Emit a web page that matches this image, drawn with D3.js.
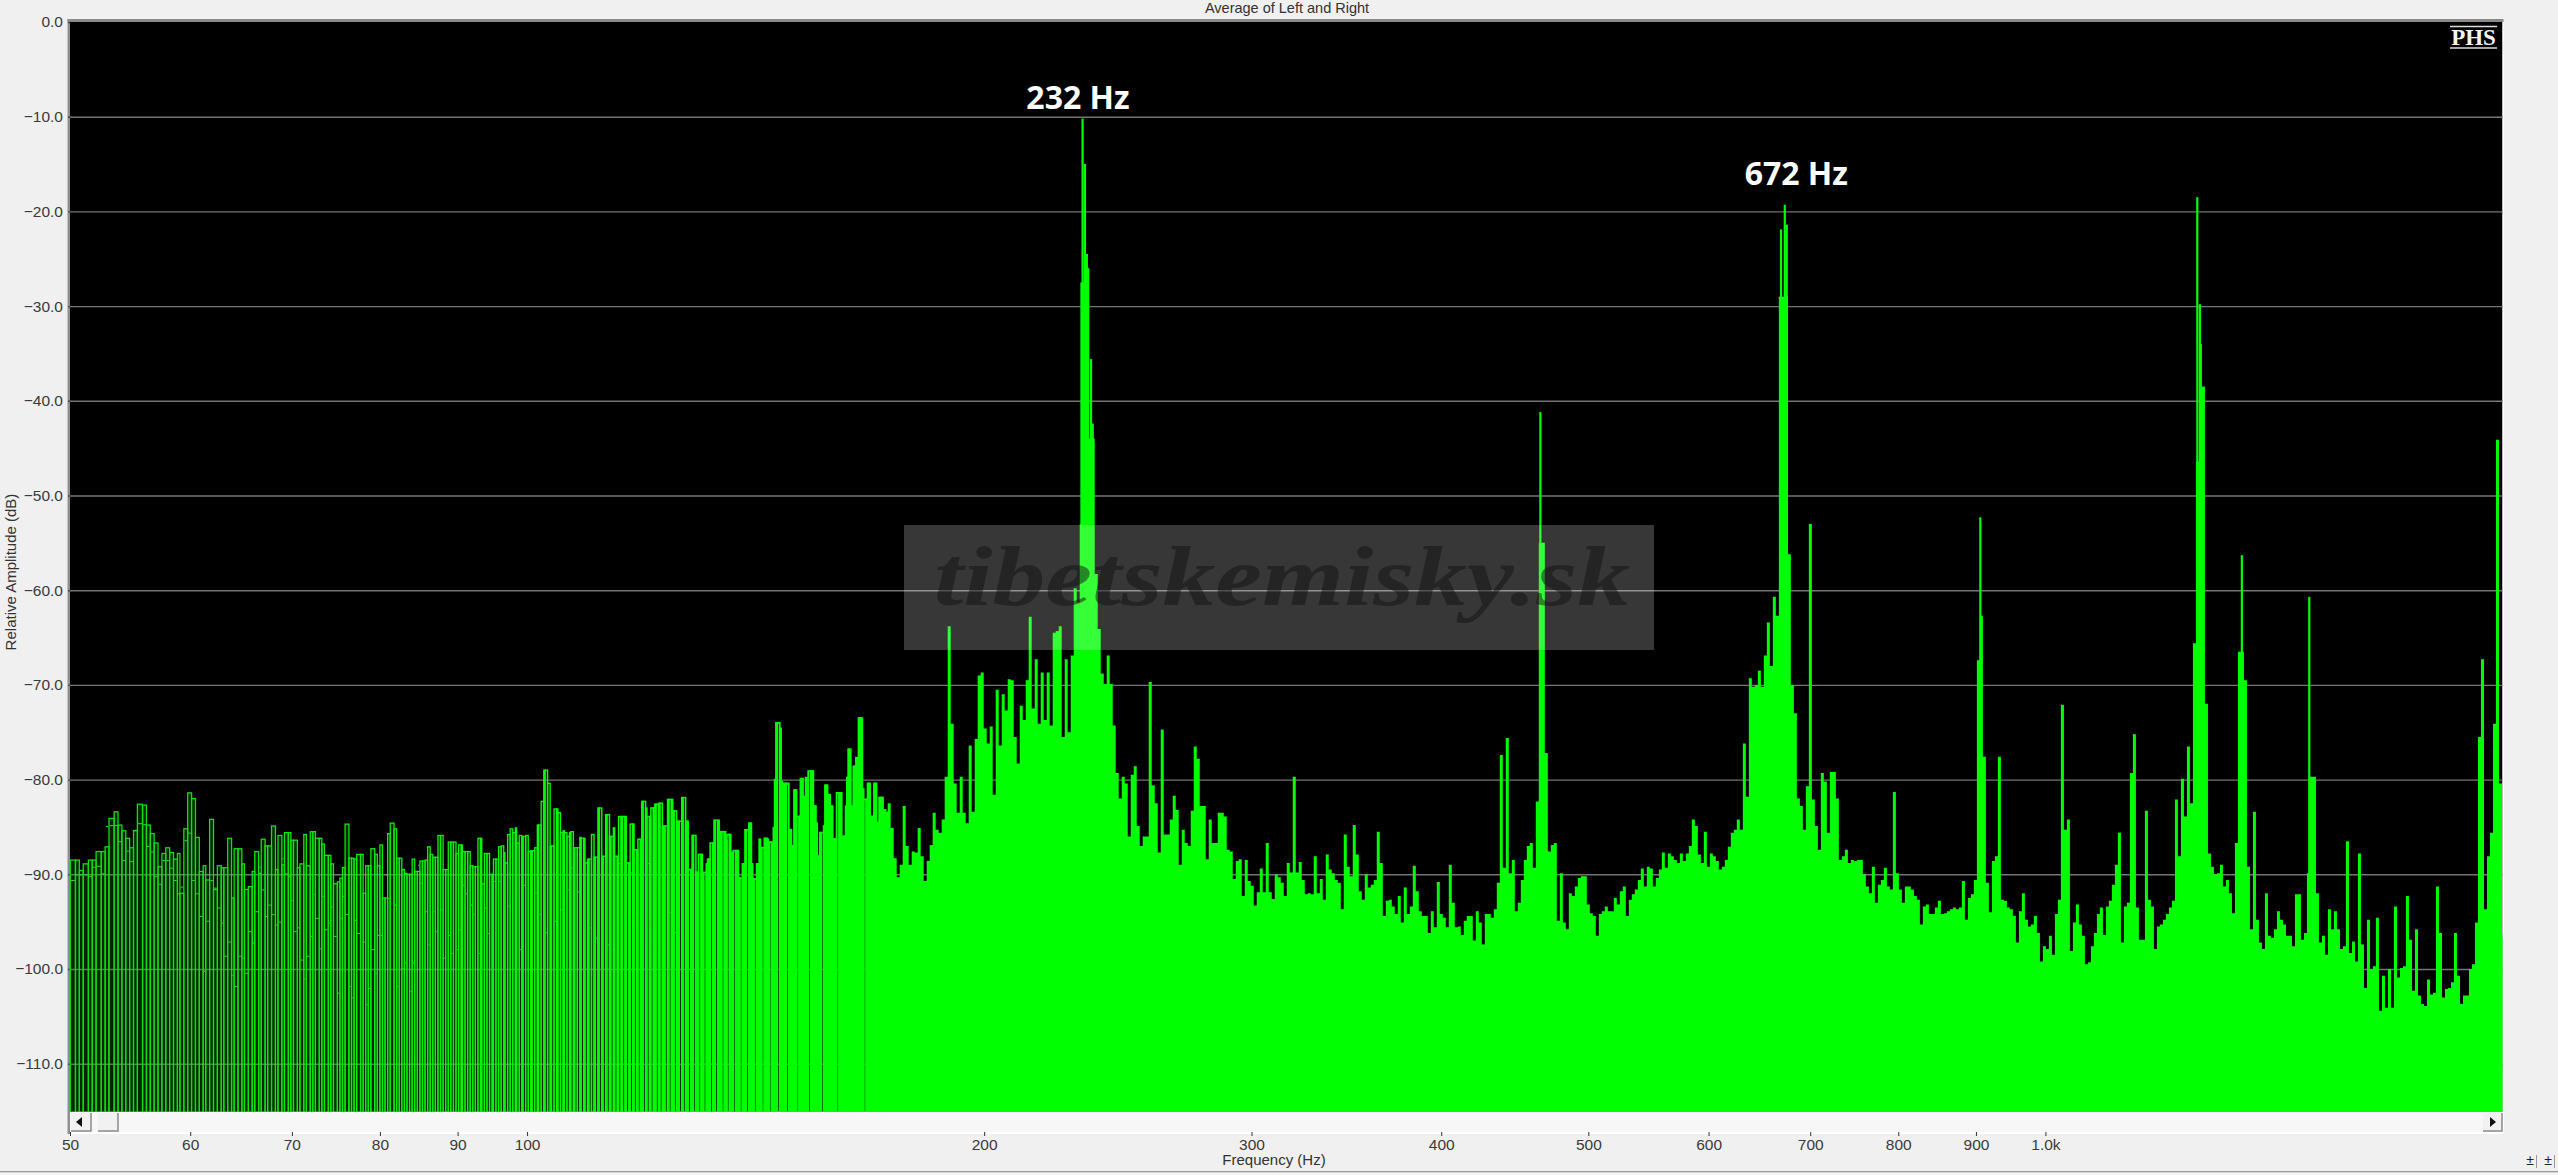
<!DOCTYPE html>
<html><head><meta charset="utf-8"><style>html,body{margin:0;padding:0;background:#f0f0f0;overflow:hidden}svg{display:block}</style>
<script src="https://cdn.jsdelivr.net/npm/d3@7"></script></head><body><svg id="c" width="2558" height="1175"></svg>
<script>
const chartTitle="Average of Left and Right", xTitle="Frequency (Hz)", yTitle="Relative Amplitude (dB)";
const yTicks=[0,-10,-20,-30,-40,-50,-60,-70,-80,-90,-100,-110];
const xTickHz=[50,60,70,80,90,100,200,300,400,500,600,700,800,900,1000];
const xTickLabels=["50","60","70","80","90","100","200","300","400","500","600","700","800","900","1.0k"];
const annotations=[{text:"232 Hz",hz:232,db:-9.2,dx:-4},{text:"672 Hz",hz:672,db:-17.2,dx:13}];
const binHz=0.336, lowStartHz=50, highStartHz=172, highBinsPerOctave=152.33;
// FFT bins 50-172 Hz, top of each bar (dB)
const lowDb=[-88.5,-88.5,-89.6,-88.9,-88.5,-88.5,-87.6,-87.6,-87.1,-84.1,-83.4,-84.8,-85.4,-86.2,-87.2,-85.4,-82.6,-82.7,-84.8,-85.7,-86.7,-89.2,-87.8,-87.2,-87.7,-88.4,-87.8,-92,-85.2,-81.4,
-82,-86.1,-89.7,-89.1,-90.6,-84.2,-91.6,-89.1,-89.3,-89.3,-86.2,-92.5,-87.3,-87.3,-88.9,-91.6,-91.3,-89.7,-87.6,-89.9,-86.3,-87,-87,-84.9,-89.5,-85.9,-89,-85.6,-85.6,-86.4,
-86.4,-89.3,-88.9,-85.8,-89.1,-85.5,-85.5,-86.2,-86.2,-86.8,-88,-88,-88.9,-91,-90.8,-90.4,-89.3,-84.7,-88.3,-88.3,-88.4,-87.9,-87.9,-92,-89.1,-89.1,-87.3,-87.9,-89.1,
-86.9,-92.5,-92.5,-85.7,-84.6,-85.2,-88.3,-88.3,-89.5,-89.9,-90,-90,-88.4,-89.7,-89.7,-88.6,-88.6,-88.5,-87.1,-87.9,-88.2,-88.2,-85.9,-85.9,-89.5,-89.5,-86.6,-86.6,-86.6,-87.8,
-86.9,-86.9,-87.6,-87.6,-87.6,-89.1,-89.2,-89.2,-86.2,-86.2,-91,-87.8,-87.8,-90,-90,-88.4,-88.4,-87.1,-87,-87.7,-88.8,-85.8,-85.2,-85.6,-85.1,-86.7,-85.9,-86,-86,
-85.9,-87.6,-87.5,-87.5,-87.2,-84.8,-84.8,-82.3,-79,-79,-80.4,
-87,-87,-83.1,-83.1,-83.5,-85.6,-85.4,-85.6,-86,-85.6,
-85.5,-87.2,-87.2,-87.2,-86.1,-86.2,-86.2,-88.8,-88.4,-88.4,
-85.8,-88.2,-88.2,-83,-83,-88.1,-88.1,-83.7,-83.7,-86,
-86,-85.1,-88.1,-88.1,-83.9,-83.9,-83.9,-83.9,-88.8,-88.8,
-84.7,-84.7,-87.4,-87.4,-86.3,-86.3,-82.3,-82.3,-83,-83.9,
-83.9,-83,-83,-82.6,-82.6,-82.5,-82.5,-84.9,-84.9,-84.9,
-82.1,-82.1,-82.1,-83.3,-83.3,-84.4,-84.4,-84.4,-81.9,-81.9,
-84.4,-84.4,-89.5,-89.5,-85.9,-85.9,-89.8,-89.8,-87.9,-87.9,
-90.7,-89.8,-88.9,-88.4,-88.4,-86.7,-86.7,-84.3,-84.3,-84.3,
-86.7,-85.5,-85.5,-85.5,-86.5,-85.8,-85.8,-87.7,-87.7,-87.5,
-87.5,-87.5,-90.4,-90.4,-88.9,-88.9,-85.3,-85.3,-84.6,-84.6,
-88.9,-90.5,-90.5,-88.9,-88.9,-86.3,-87.2,-87.2,-86.2,-86.2,
-86.3,-86.6,-86.6,-86.6,-85.1,-80,-74,-74,-74.6,-80.2,
-83.5,-80.4,-80.4,-80.4,-85.3,-85.3,-87,-87,-81.1,-81.1,
-83.9,-83.9,-79.9,-79.9,-81.8,-81.8,-79.8,-81.2,-79.1,-79.1,
-79.1,-82.8,-82.8,-84.6,-88.1,-88.1,-85.6,-85.6,-84.9,-80.6,
-80.6,-81.6,-81.6,-82.8,-82.8,-86.3,-86.3,-86.3,-81.4,-81.4,
-81.4,-86,-86,-86,-82.8,-79.8,-76.8,-76.8,-82.8,-82.8,
-78.6,-78.6,-77.7,-77.7,-73.5,-73.5,-73.5,-81,-82.1,-82.1,
-80.4,-80.4,-83.9,-83.9,-83.9,-80.4,-80.4,-84.6,-84.6,-81.9,-81.9,-81.9,-83.2,-83.2];
// second, fainter trace inside the bars (dB)
const lowInnerDb=[-90.6,-90,-90,-90,-90.2,-89.2,-89.1,-89.9,-84.9,-84.8,-84.8,-86.5,-88.5,-87.5,-88.6,-85.3,-84.6,-84.7,-87,-87.6,-90.2,-91,-88.5,-88.5,-89.3,-90.6,-92,-91.3,-86.4,-85.6,
-90.6,-92,-94.4,-100.2,-94.9,-90.6,-91.4,-93.5,-95.1,-98.6,-97.1,-100.6,-101.8,-98.6,-98.8,-100.4,-96,-97.2,-93.9,-89.2,-91.6,-94.4,-93.2,-94.2,-95.3,-95,-88.3,-89.9,-90.2,-92.7,
-96,-95.6,-99,-101,-98.6,-96.5,-92.1,-94.6,-97.8,-92.3,-95.8,-95.1,-93.4,-96.5,-102.5,-94.6,-92.3,-94.2,-101.8,-103,-94.8,-96.2,-100,-97.1,-103.7,-102,-97.9,-100.4,-96.4,
-96.4,null,-90,-92.5,null,-93.2,-101.8,null,-99.9,-99.3,null,-102.3,-99.3,null,-89,-90.9,null,-93.9,-97.4,null,-93.9,-96,null,-93.7,-98.8,null,-96.4,-98.3,null,-97.9,-95.8,null,-91.1,-92,null,-93.2,-94.2,null,-98.3,-92.8,null,-93.5,-96.2,null,-99.9,
-90.7,null,-90.7,null,-92.3,null,-93.3,null,null,-92.1,null,-97.9,null,-91.1,null,null,-93,null,-91.9,null,-94.2,null,null,-96.1,null,-99.1,null,-94.9,null,null,-93.7,null,null,-91.6,null,-89.3,null,null,-91.8,null,null,-94.4,null,null,-95.6,null,null,-96.7,null,null,-88.4,null,null,-97.4,null,null,-95.4,null,null,-88.8,null,null,-94,null,null,-89.8,null,null,-94.9,null,null,-95.8,null,null,-88.8,null,null,-95.4,null,null,-91.9,null,null,-97.4,null,null,-94,null,null,-96.1];
// log-spaced columns from 172 Hz to 2 kHz, top of each column (dB)
const highDb=[-83.4,-82.5,-85.1,-88.3,-90.3,-89,-82.8,-87,-89,-87.6,-87.7,-85.1,-88.1,-90.7,-88.6,-86.9,-83.5,-85.3,-85.6,-84.2,-79.7,-63.8,-74.1,-80.4,-83.5,-79.7,-83.5,-84.6,-76.4,-83.4,-75.7,-69,-68.7,-74.6,-76.2,-74.4,-81.6,-70.5,-76.4,-71,-72.7,-69.4,-69.5,-75.5,-78.3,-72.2,-73.7,-69.5,-62.8,-72.5,-67.3,-74.1,-68.7,-73.7,-68.7,-74.3,-64.5,-64.3,-63.8,-75.5,-67.3,-75,-66.9,-59.8,-61.3,-53,-27.5,-27.5,-44,-44,-58.3,-64.1,-68.8,-69.9,-66.9,-69.9,-74.3,-79.3,-82,-79.7,-80.4,-86,-79.5,-78.6,-84.9,-87,-86,-86,-69.7,-80.6,-82.5,-87.7,-74.7,-85.8,-85.8,-84.2,-81.7,-83.2,-89,-85.3,-86.7,-87,-83.3,-76.5,-77.8,-82.8,-82.8,-88.4,-84.2,-86.7,-86.7,-83.5,-83.5,-83.9,-87.4,-87.6,-90.5,-88.6,-88.4,-92.3,-88.5,-90.7,-91.2,-93.3,-91.9,-89.4,-91.9,-86.7,-91.9,-92.6,-90,-90.3,-90.9,-92.3,-88.8,-89.8,-79.7,-89.8,
-88.7,-90.6,-92.1,-92,-92.1,-88.1,-92,-90.5,-92.7,-87.9,-89.5,-89.9,-90.6,-90.9,-93.7,-85.8,-89.2,-90.2,-84.8,-87.9,-91.8,-92.7,-90,-91.4,-91.1,-90.6,-85.5,-88.8,-94.4,-92.8,-92.7,-93.4,-94.2,-92.3,-95.1,-91.4,-94.2,-93.4,-89.1,-91.8,-93.9,-94.4,-94.4,-96.2,-93.9,-95.6,-90.8,-94.2,-94.6,-95.6,-89,-93,-95.6,-95.5,-96.4,-94.9,-94.4,-94.4,-97,-93.9,-95.1,-97.4,-94.2,-94.2,-94.6,-93.7,-90.9,-77.4,-89.3,-75.6,-89.9,-88.5,-93.9,-93,-90.6,-88.5,-87,-86.7,-89.3,-82.3,-55,-55,-77.2,-87.6,-86.9,-86.7,-94.9,-89.9,-95.1,-95.8,-92,-92.3,-91.3,-90.4,-90.2,-90.2,-93.2,-94.1,-94.4,-96.5,-94.2,-93.9,-93.4,-93.9,-93.9,-92.5,-93.2,-91.8,-91.3,-94.4,-92.7,-92.1,-91.6,-90.6,-89.4,-91.3,-89.2,-89.4,-91.3,-90.4,-89.5,-87.7,-89.3,-87.8,-88.1,-88.5,-88.8,-87.8,-88.6,-87.8,-87,-84.2,-84.9,-87.9,-88.8,-85.5,-89.2,
-87.8,-88.1,-88.6,-89.5,-89.2,-88.5,-87.1,-85.6,-85.3,-84.2,-85.3,-76.2,-81.8,-69.3,-70.2,-70,-68.5,-70.2,-66.9,-63.4,-68,-60.7,-62.7,-29,-29,-29,-56.2,-70,-73,-82,-82.8,-85.3,-80.7,-53,-82.1,-84.9,-87.4,-79.3,-80.2,-85.6,-79.2,-79.2,-82,-88.5,-88.1,-87.4,-88.8,-88.5,-88.6,-88.5,-88.5,-90,-91.3,-92,-89.2,-93,-91.1,-90.6,-89.3,-91.3,-91.6,-81.3,-89.9,-91.6,-93,-91.3,-91.3,-91.6,-92.3,-92.7,-95.3,-93.4,-93.2,-94.2,-94.2,-93.5,-92.8,-94.2,-94.1,-93.9,-93.7,-93.5,-93.7,-93.5,-90.7,-94.8,-92.5,-92.1,-90.6,-67.4,-62.7,-77.6,-90.9,-94,-88.6,-88.1,-77.6,-92.7,-92.8,-93.5,-93.7,-94.4,-97.2,-93.9,-92,-94.8,-95.5,-95.3,-94.4,-96.2,-99.2,-97.6,-97.9,-96.5,-98.5,-94.2,-92.7,-72.1,-85.3,-84.2,-98.1,-95.1,-93.2,
-95.3,-96.5,-99.5,-99.3,-97.6,-96.2,-94.2,-93.5,-96.4,-93.4,-92.8,-91.1,-89,-85.6,-97.2,-93.4,-93,-79.3,-75.2,-93.5,-96.9,-96.9,-83.3,-92.7,-93.4,-97.9,-95.5,-95.3,-94.8,-94.2,-93.5,-92.8,-82.1,-88.1,-79.9,-83.9,-76.5,-82.5,-65.6,-46.4,-34,-38.5,-72,-87.8,-89.2,-90,-89.9,-89,-91.3,-90.6,-92,-94.1,-86.7,-66.5,-66.5,-69.5,-89.2,-95.8,-83.4,-94.8,-97.2,-97.9,-92,-96.5,-96.7,-95.8,-93.9,-94.8,-95.3,-96.5,-96.5,-97.6,-92.1,-92.1,-96.9,-96.2,-89.9,-79.7,-79.7,-92,-97.2,-96.5,-98.5,-93.7,-95.8,-93.9,-95.8,-97.9,-97.6,-86.5,-98.3,-97.1,-99.2,-87.8,-97.4,-102,-94.8,-100,-99.7,-94.6,-104.4,-100.7,-104.1,-100,-104.1,-93.4,-100.9,-99.9,-99.7,-92.3,-96.9,-102.3,-95.8,-102.8,-103.7,-103.9,-101.1,-102.7,-102.5,-91.3,-96.2,-103,-102.1,-102,-101.4,-96.2,-100.7,-103.7,-102.8,-102.8,-100,-99.5,-95.1,-75.5,-67.3,-93.7,-88.1,-85.6,-74.1,-44.1,-80.4,-96.4];
// narrow tall peaks (Hz, dB)
const peakHz=[231.8,232.2,233.05,233.7,234.2,235.2,235.8,236.5,464.9,669.7,673.5,675.5,906,1259,1264,1347,1492];
const peakDb=[-27.5,-10.2,-15,-24.5,-26,-35.6,-42.4,-58.3,-41.2,-21.9,-19.3,-21.4,-52.3,-18.5,-29.8,-56.3,-60.7];
const watermarkText="tibetskemisky.sk", badgeText="PHS";

const L=70,R=2502.5,T=22,B=1112,px=1.29;
const svg=d3.select("#c");
const x=d3.scaleLog().domain([50,2000]).range([L,R]);
const y=d3.scaleLinear().domain([0,-115.1]).range([T,B]);
const sans="'Liberation Sans',Arial,sans-serif";
const snap=v=>Math.round(v/px)*px;
const barStroke=d3.scaleLinear().domain([50,100,140]).range(["#10dc10","#0cf40c","#00ff00"]).clamp(true);
const barStrokeW=d3.scaleLinear().domain([100,150]).range([px,px*1.35]).clamp(true);

svg.append("rect").attr("width",2558).attr("height",1175).attr("fill","#f0f0f0");
// panel frame
svg.append("rect").attr("x",L-2.5).attr("y",T-3).attr("width",R-L+3.5).attr("height",3).attr("fill","#8a8a8a");
svg.append("rect").attr("x",L-2.5).attr("y",T-3).attr("width",2.5).attr("height",1137-T).attr("fill","#8f8f8f");
svg.append("rect").attr("x",L).attr("y",T).attr("width",R-L).attr("height",B-T).attr("fill","#000");
svg.append("rect").attr("x",R).attr("y",T).attr("width",1.5).attr("height",1133-T).attr("fill","#fff");

// gridlines + y axis
const yAxis=d3.axisLeft(y).tickValues(yTicks).tickSize(0).tickPadding(7).tickFormat(d3.format(".1f"));
const gy=svg.append("g").attr("transform",`translate(${L},0)`).call(yAxis);
gy.select(".domain").remove();
gy.selectAll("text").attr("font-family",sans).attr("font-size",15.5).attr("fill","#3a3a3a");
gy.selectAll(".tick").append("line").filter(d=>d!==0).attr("x1",0).attr("x2",R-L).attr("stroke","#757575").attr("stroke-width",1.4);
gy.selectAll(".tick").append("line").attr("x1",-2).attr("x2",0).attr("stroke","#444").attr("stroke-width",1.4);

// low bins as outlined bars on a coarse pixel raster
const lowBars=lowDb.map((db,i)=>{const f=lowStartHz+i*binHz;return {f,db,inner:lowInnerDb[i]??null,x0:snap(x(f)),x1:snap(x(f+binHz))};}).filter(d=>d.f<highStartHz);
const gl=svg.append("g");
gl.selectAll("rect").data(lowBars).join("rect")
 .attr("x",d=>d.x0+px/2).attr("width",d=>Math.max(0,d.x1-d.x0))
 .attr("y",d=>y(d.db)).attr("height",d=>B-y(d.db))
 .attr("fill","rgba(0,150,0,0.24)").attr("stroke",d=>barStroke(d.f)).attr("stroke-width",d=>barStrokeW(d.f));
svg.append("g").selectAll("rect").data(lowBars.filter(d=>d.inner!==null)).join("rect")
 .attr("x",d=>d.x0+px).attr("width",d=>Math.max(px,d.x1-d.x0-px))
 .attr("y",d=>y(d.inner)).attr("height",px*0.8).attr("fill","#2ed82e");
// cover stray strokes below baseline
svg.append("rect").attr("x",L).attr("y",B).attr("width",R-L).attr("height",2).attr("fill","#f8f8f8");

// high columns
const ratio=Math.pow(2,1/highBinsPerOctave);
const highPts=highDb.map((db,k)=>({f:highStartHz*Math.pow(ratio,k),db}));
highPts.push({f:2000,db:highDb[highDb.length-1]});
const area=d3.area().x(d=>x(d.f)).y0(B).y1(d=>y(d.db)).curve(d3.curveStepAfter);
svg.append("path").datum(highPts).attr("d",area).attr("fill","#00ff00");
svg.append("g").selectAll("rect").data(peakHz.map((f,i)=>({f,db:peakDb[i]}))).join("rect")
 .attr("x",d=>x(d.f)-1.1).attr("width",2.2).attr("y",d=>y(d.db)).attr("height",d=>B-y(d.db)).attr("fill","#00ff00");

// scrollbar strip + x axis
svg.append("rect").attr("x",L).attr("y",B).attr("width",R-L).attr("height",20).attr("fill","#f7f7f7");
svg.append("rect").attr("x",L).attr("y",B+20).attr("width",R-L+1).attr("height",2).attr("fill","#ffffff");
function btn(bx,w){svg.append("rect").attr("x",bx).attr("y",B+1).attr("width",w).attr("height",18).attr("fill","#f1f1f1").attr("stroke","none");
 svg.append("path").attr("d",`M${bx+w},${B+1}V${B+19}H${bx}`).attr("fill","none").attr("stroke","#8a8a8a").attr("stroke-width",1.5);}
btn(71,20);btn(98,20);btn(2483,19);
svg.append("path").attr("d",d3.line()([[76,B+10],[82,B+5],[82,B+15]])+"Z").attr("fill","#111");
svg.append("path").attr("d",d3.line()([[2490,B+5],[2496,B+10],[2490,B+15]])+"Z").attr("fill","#111");
const xAxis=d3.axisBottom(x).tickValues(xTickHz).tickSize(4).tickPadding(3).tickFormat((d,i)=>xTickLabels[i]);
const gx=svg.append("g").attr("transform",`translate(0,${B+20})`).call(xAxis);
gx.select(".domain").remove();
gx.selectAll("line").attr("stroke","#333");
gx.selectAll("text").attr("font-family",sans).attr("font-size",15.5).attr("fill","#3a3a3a");

// titles
svg.append("text").attr("x",1287).attr("y",13).attr("text-anchor","middle").attr("font-family",sans).attr("font-size",14.5).attr("fill","#333").text(chartTitle);
svg.append("text").attr("x",1274).attr("y",1164.5).attr("text-anchor","middle").attr("font-family",sans).attr("font-size",15).attr("fill","#333").text(xTitle);
svg.append("text").attr("transform","translate(16,572) rotate(-90)").attr("text-anchor","middle").attr("font-family",sans).attr("font-size",15).attr("fill","#333").text(yTitle);

// annotations
svg.append("g").selectAll("text").data(annotations).join("text")
 .attr("x",d=>x(d.hz)+d.dx).attr("y",d=>y(d.db)).attr("text-anchor","middle")
 .attr("font-family","'Open Sans',sans-serif").attr("font-weight",700).attr("font-size",32).attr("fill","#fff").text(d=>d.text);

// badge
svg.append("text").attr("x",2473.5).attr("y",45).attr("text-anchor","middle").attr("font-family","'Liberation Serif',serif").attr("font-weight",700).attr("font-size",23).attr("fill","#f4f4f4").text(badgeText);
[26.5,48].forEach(v=>svg.append("line").attr("x1",2450).attr("x2",2497).attr("y1",v).attr("y2",v).attr("stroke","#dcdcdc").attr("stroke-width",1.5));

// watermark
svg.append("rect").attr("x",904).attr("y",525).attr("width",750).attr("height",125).attr("fill","#fff").attr("fill-opacity",0.215);
svg.append("text").attr("x",934).attr("y",605).attr("textLength",696).attr("lengthAdjust","spacingAndGlyphs")
 .attr("font-family","'Liberation Serif',serif").attr("font-style","italic").attr("font-weight",700).attr("font-size",84)
 .attr("fill","#111").attr("fill-opacity",0.5).text(watermarkText);

// window bottom edge + corner buttons
svg.append("rect").attr("x",0).attr("y",1171).attr("width",2558).attr("height",1.6).attr("fill","#9a9a9a");
svg.append("rect").attr("x",0).attr("y",1172.6).attr("width",2558).attr("height",3).attr("fill","#f6f6f6");
[2530,2548].forEach(bx=>{svg.append("text").attr("x",bx).attr("y",1165).attr("text-anchor","middle").attr("font-family",sans).attr("font-size",14).attr("fill","#222").text("±");
 svg.append("line").attr("x1",bx+6.5).attr("x2",bx+6.5).attr("y1",1155).attr("y2",1168).attr("stroke","#999").attr("stroke-width",1);});
</script></body></html>
